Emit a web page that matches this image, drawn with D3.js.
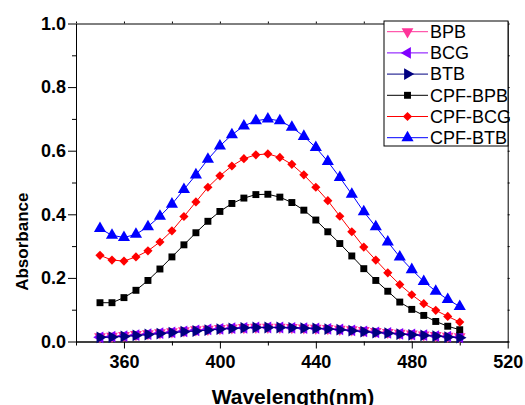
<!DOCTYPE html>
<html>
<head>
<meta charset="utf-8">
<script src="https://cdn.jsdelivr.net/npm/d3@7"></script>
<style>
  body { margin: 0; background: #fff; }
  svg { font-family: "Liberation Sans", Arial, sans-serif; }
  .axis path, .axis line { stroke: #000; stroke-width: 1; }
  .axis text { font-weight: bold; font-size: 18px; fill: #000; }
</style>
</head>
<body>
<svg id="chart" width="525" height="405"></svg>
<script>
document.addEventListener("DOMContentLoaded", function() {

    // Data
    const wavelengths = [350, 355, 360, 365, 370, 375, 380, 385, 390, 395, 400, 405, 410, 415, 420, 425,
                         430, 435, 440, 445, 450, 455, 460, 465, 470, 475, 480, 485, 490, 495, 500];

    const bpb = [0.015, 0.017, 0.019, 0.022, 0.025, 0.028, 0.031, 0.034, 0.037, 0.039, 0.041, 0.043, 0.044, 0.045, 0.045, 0.045,
                 0.044, 0.043, 0.042, 0.041, 0.039, 0.037, 0.035, 0.032, 0.029, 0.026, 0.024, 0.021, 0.019, 0.017, 0.015];
    const bcg = [0.013, 0.015, 0.017, 0.020, 0.023, 0.026, 0.029, 0.032, 0.035, 0.038, 0.040, 0.042, 0.043, 0.044, 0.044, 0.044,
                 0.043, 0.042, 0.041, 0.040, 0.038, 0.035, 0.032, 0.029, 0.027, 0.024, 0.022, 0.020, 0.017, 0.015, 0.013];
    const btb = [0.013, 0.014, 0.016, 0.019, 0.022, 0.025, 0.028, 0.031, 0.033, 0.036, 0.039, 0.041, 0.043, 0.044, 0.044, 0.044,
                 0.043, 0.042, 0.041, 0.039, 0.037, 0.034, 0.031, 0.028, 0.026, 0.023, 0.021, 0.019, 0.017, 0.014, 0.012];
    const cpfBpb = [0.122, 0.122, 0.138, 0.161, 0.192, 0.228, 0.266, 0.304, 0.342, 0.378, 0.409, 0.434, 0.451, 0.462, 0.463, 0.454,
                    0.437, 0.413, 0.382, 0.345, 0.308, 0.269, 0.229, 0.192, 0.158, 0.124, 0.101, 0.082, 0.063, 0.048, 0.037];
    const cpfBcg = [0.271, 0.256, 0.253, 0.266, 0.285, 0.313, 0.348, 0.393, 0.439, 0.485, 0.521, 0.552, 0.575, 0.587, 0.590, 0.579,
                    0.557, 0.524, 0.485, 0.443, 0.394, 0.345, 0.297, 0.256, 0.216, 0.179, 0.147, 0.119, 0.098, 0.079, 0.061];
    const cpfBtb = [0.355, 0.334, 0.327, 0.337, 0.361, 0.394, 0.432, 0.478, 0.524, 0.573, 0.615, 0.650, 0.678, 0.694, 0.700, 0.694,
                    0.674, 0.645, 0.610, 0.566, 0.516, 0.463, 0.408, 0.361, 0.313, 0.266, 0.226, 0.189, 0.158, 0.132, 0.110];

    const seriesNames = ["BPB", "BCG", "BTB", "CPF-BPB", "CPF-BCG", "CPF-BTB"];
    const seriesValues = [bpb, bcg, btb, cpfBpb, cpfBcg, cpfBtb];

    const xMajorTicks = [360, 400, 440, 480, 520];
    const xMinorTicks = [340, 380, 420, 460, 500];
    const yMajorTicks = [0.0, 0.2, 0.4, 0.6, 0.8, 1.0];
    const yMinorTicks = [0.1, 0.3, 0.5, 0.7, 0.9];

    // Display settings
    const styles = [
        {color: "#ff3399", shape: "triangle", rotate: 180, size: 60},
        {color: "#8000ff", shape: "triangle", rotate: -90, size: 60},
        {color: "#000080", shape: "triangle", rotate: 90, size: 60},
        {color: "#000000", shape: "square", rotate: 0, size: 48},
        {color: "#ff0000", shape: "square", rotate: 45, size: 42},
        {color: "#0000ff", shape: "triangle", rotate: 0, size: 64}
    ];

    const margin = {left: 76, top: 23.5, right: 17.3, bottom: 63.5};
    const width = 525, height = 405;
    const graphWidth = width - margin.left - margin.right;
    const graphHeight = height - margin.top - margin.bottom;

    // Scales
    const x = d3.scaleLinear().domain([340, 520]).range([0, graphWidth]);
    const y = d3.scaleLinear().domain([0, 1]).range([graphHeight, 0]);
    const line = d3.line()
        .x(d => x(d.wavelength))
        .y(d => y(d.absorbance));

    const svg = d3.select("#chart");
    const g = svg.append("g")
        .attr("transform", `translate(${margin.left},${margin.top})`);

    // Axes
    g.append("g")
        .attr("class", "axis")
        .attr("transform", `translate(0,${graphHeight})`)
        .call(d3.axisBottom(x).tickValues(xMajorTicks).tickSize(7).tickPadding(7).tickSizeOuter(0));
    g.append("g")
        .attr("class", "axis")
        .attr("transform", `translate(0,${graphHeight})`)
        .call(d3.axisBottom(x).tickValues(xMinorTicks).tickSize(4).tickFormat("").tickSizeOuter(0));

    g.append("g")
        .attr("class", "axis")
        .call(d3.axisLeft(y).tickValues(yMajorTicks).tickSize(8).tickPadding(2).tickSizeOuter(0)
            .tickFormat(d3.format(".1f")));
    g.append("g")
        .attr("class", "axis")
        .call(d3.axisLeft(y).tickValues(yMinorTicks).tickSize(4).tickFormat("").tickSizeOuter(0));

    // Frame: top and right, with small outward ticks
    g.append("g")
        .attr("class", "axis")
        .call(d3.axisTop(x).tickValues(xMajorTicks.concat(xMinorTicks)).tickSize(2).tickFormat("").tickSizeOuter(0));
    g.append("g")
        .attr("class", "axis")
        .attr("transform", `translate(${graphWidth},0)`)
        .call(d3.axisRight(y).tickValues(yMajorTicks.concat(yMinorTicks)).tickSize(2).tickFormat("").tickSizeOuter(0));

    // Marker helper
    function markerPath(style) {
        const type = style.shape === "square" ? d3.symbolSquare : d3.symbolTriangle;
        return d3.symbol().type(type).size(style.size)();
    }

    // Series
    seriesValues.forEach((values, i) => {
        const st = styles[i];
        const data = wavelengths.map((w, j) => ({wavelength: w, absorbance: values[j]}));
        g.append("path")
            .datum(data)
            .attr("fill", "none")
            .attr("stroke", st.color)
            .attr("stroke-width", 1)
            .attr("d", line);
        g.selectAll(".pt" + i)
            .data(data)
            .enter()
            .append("path")
            .attr("class", "pt" + i)
            .attr("d", markerPath(st))
            .attr("fill", st.color)
            .attr("transform", d => `translate(${x(d.wavelength)},${y(d.absorbance)}) rotate(${st.rotate})`);
    });

    // Legend
    const legend = svg.append("g").attr("transform", "translate(384,21)");
    legend.append("rect")
        .attr("width", 124)
        .attr("height", 125)
        .attr("fill", "#fff")
        .attr("stroke", "#000")
        .attr("stroke-width", 1);
    seriesNames.forEach((name, i) => {
        const st = styles[i];
        const ly = 10.7 + i * 21.2;
        legend.append("line")
            .attr("x1", 3).attr("x2", 44)
            .attr("y1", ly).attr("y2", ly)
            .attr("stroke", st.color)
            .attr("stroke-width", 1);
        legend.append("path")
            .attr("d", markerPath(st))
            .attr("fill", st.color)
            .attr("transform", `translate(23.5,${ly}) rotate(${st.rotate})`);
        legend.append("text")
            .attr("x", 46)
            .attr("y", ly + 6.3)
            .style("font-size", "18px")
            .text(name);
    });

    // Axis titles
    svg.append("text")
        .attr("x", 293)
        .attr("y", 404)
        .attr("text-anchor", "middle")
        .style("font-size", "21px")
        .style("font-weight", "bold")
        .text("Wavelength(nm)");

    svg.append("text")
        .attr("transform", "translate(27.5,241.7) rotate(-90)")
        .attr("text-anchor", "middle")
        .style("font-size", "17px")
        .style("font-weight", "bold")
        .text("Absorbance");
});
</script>
</body>
</html>
